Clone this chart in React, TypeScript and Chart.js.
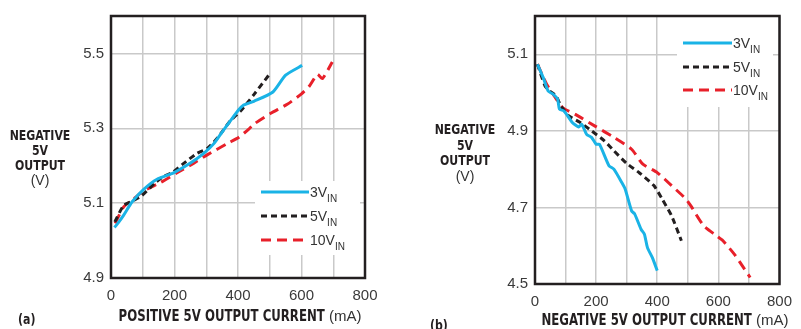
import React, { useEffect, useRef } from 'react';
import { Chart, registerables } from 'chart.js';
Chart.register(...registerables);

// ---------- data ----------
const seriesNames = ['3V', '5V', '10V'];
const xTickValues = [0, 100, 200, 300, 400, 500, 600, 700, 800];
const xTickLabels = ['0', '', '200', '', '400', '', '600', '', '800'];

// panel (a): positive 5V output current vs negative 5V output
const aYTicks = [4.9, 5.1, 5.3, 5.5];
const a3X = [11, 25, 40, 66, 103, 145, 197, 250, 292, 324, 350, 376, 403, 418, 430, 450, 510, 550, 602];
const a3Y = [5.035, 5.05, 5.068, 5.103, 5.137, 5.164, 5.181, 5.207, 5.233, 5.259, 5.29, 5.32, 5.35, 5.362, 5.366, 5.372, 5.397, 5.442, 5.468];
const a5X = [12, 40, 71, 97, 140, 166, 192, 224, 271, 303, 329, 345, 376, 408, 450, 497];
const a5Y = [5.05, 5.094, 5.107, 5.12, 5.155, 5.172, 5.181, 5.203, 5.233, 5.246, 5.268, 5.285, 5.32, 5.346, 5.39, 5.442];
const a10X = [13, 40, 71, 103, 156, 208, 261, 303, 366, 403, 434, 450, 503, 555, 600, 625, 650, 666, 697];
const a10Y = [5.046, 5.09, 5.111, 5.133, 5.155, 5.181, 5.207, 5.229, 5.259, 5.276, 5.298, 5.311, 5.34, 5.364, 5.392, 5.413, 5.444, 5.433, 5.477];

// panel (b): negative 5V output current vs negative 5V output
const bYTicks = [4.5, 4.7, 4.9, 5.1];
const b3X = [8, 27, 43, 59, 74, 80, 95, 122, 143, 153, 169, 185, 200, 211, 242, 258, 284, 295, 316, 326, 347, 358, 368, 384, 400];
const b3Y = [5.074, 5.039, 5.004, 4.996, 4.983, 4.957, 4.952, 4.922, 4.91, 4.917, 4.891, 4.883, 4.865, 4.865, 4.809, 4.8, 4.765, 4.748, 4.691, 4.683, 4.643, 4.63, 4.595, 4.569, 4.535];
const b5X = [8, 33, 48, 69, 85, 111, 148, 185, 227, 258, 300, 342, 389, 416, 447, 479];
const b5Y = [5.074, 5.017, 5.004, 4.991, 4.965, 4.939, 4.922, 4.9, 4.874, 4.848, 4.815, 4.79, 4.757, 4.722, 4.678, 4.613];
const b10X = [8, 38, 59, 90, 132, 195, 258, 316, 353, 400, 447, 494, 510, 552, 594, 615, 652, 678, 704];
const b10Y = [5.074, 5.022, 4.996, 4.961, 4.943, 4.913, 4.883, 4.852, 4.813, 4.791, 4.757, 4.722, 4.704, 4.652, 4.626, 4.613, 4.578, 4.548, 4.517];

// ---------- styles ----------
const COLORS = ['#1ab3e6', '#231f20', '#e8202a'];
const DASHES: number[][] = [[], [6, 4], [10, 6]];
const GRID = '#c9c9c9';
const FRAME = '#231f20';
const TICK_FONT = '"Liberation Sans", Arial, sans-serif';
const TITLE_FONT = '"DejaVu Sans Condensed", "Liberation Sans", sans-serif';
const SQUEEZE = 0.87;

type Panel = {
  W: number; H: number;
  area: { left: number; right: number; top: number; bottom: number };
  yMin: number; yMax: number; yTicks: number[];
  xs: number[][]; ys: number[][];
  legendBox: { x: number; y: number; w: number; h: number };
  legend: { x1: number; x2: number; tx: number; rows: number[] };
  yTitle: { cx: number; rows: number[] };
  xTitle: { bold: string; cx: number; cy: number };
  tag: { text: string; x: number; y: number };
};

const panels: Panel[] = [
  {
    W: 400, H: 329,
    area: { left: 111, right: 365, top: 10, bottom: 278 },
    yMin: 4.9, yMax: 5.6, yTicks: aYTicks,
    xs: [a3X, a5X, a10X], ys: [a3Y, a5Y, a10Y],
    legendBox: { x: 255, y: 181, w: 105, h: 74 },
    legend: { x1: 261, x2: 309, tx: 310, rows: [192, 216, 240] },
    yTitle: { cx: 40, rows: [136, 151, 166, 181] },
    xTitle: { bold: 'POSITIVE 5V OUTPUT CURRENT', cx: 240, cy: 317 },
    tag: { text: '(a)', x: 18, y: 320 },
  },
  {
    W: 401, H: 329,
    area: { left: 135, right: 389, top: 14, bottom: 284 },
    yMin: 4.5, yMax: 5.2, yTicks: bYTicks,
    xs: [b3X, b5X, b10X], ys: [b3Y, b5Y, b10Y],
    legendBox: { x: 277, y: 14, w: 96, h: 93 },
    legend: { x1: 283, x2: 332, tx: 333, rows: [43, 67, 90] },
    yTitle: { cx: 65, rows: [130, 146, 161, 177] },
    xTitle: { bold: 'NEGATIVE 5V OUTPUT CURRENT', cx: 265, cy: 321 },
    tag: { text: '(b)', x: 30, y: 326 },
  },
];

function squeezedText(ctx: any, text: string, x: number, y: number, align: 'left' | 'center') {
  const w = ctx.measureText(text).width * SQUEEZE;
  const left = align === 'center' ? x - w / 2 : x;
  ctx.save();
  ctx.textAlign = 'left';
  ctx.translate(left, y);
  ctx.scale(SQUEEZE, 1);
  ctx.fillText(text, 0, 0);
  ctx.restore();
  return w;
}

function panelPlugin(p: Panel) {
  return {
    id: 'panelDeco',
    beforeDatasetsDraw(chart: any) {
      const ctx = chart.ctx;
      ctx.save();
      ctx.fillStyle = '#ffffff';
      ctx.fillRect(p.legendBox.x, p.legendBox.y, p.legendBox.w, p.legendBox.h);
      ctx.restore();
    },
    afterDraw(chart: any) {
      const ctx = chart.ctx;
      const a = chart.chartArea;
      ctx.save();
      // legend
      seriesNames.forEach((name, i) => {
        const y = p.legend.rows[i];
        ctx.beginPath();
        ctx.setLineDash(DASHES[i]);
        ctx.strokeStyle = COLORS[i];
        ctx.lineWidth = 3;
        ctx.moveTo(p.legend.x1, y);
        ctx.lineTo(p.legend.x2, y);
        ctx.stroke();
        ctx.setLineDash([]);
        ctx.fillStyle = '#333333';
        ctx.textBaseline = 'alphabetic';
        ctx.textAlign = 'left';
        ctx.font = `14px ${TICK_FONT}`;
        ctx.fillText(name, p.legend.tx, y + 5);
        const w = ctx.measureText(name).width;
        ctx.font = `10px ${TICK_FONT}`;
        ctx.fillText('IN', p.legend.tx + w, y + 10);
      });
      // frame
      ctx.strokeStyle = FRAME;
      ctx.lineWidth = 2.5;
      ctx.strokeRect(a.left, a.top, a.right - a.left, a.bottom - a.top);
      // y title
      ctx.fillStyle = '#231f20';
      ctx.textBaseline = 'middle';
      const yLines = ['NEGATIVE', '5V', 'OUTPUT'];
      ctx.font = `bold 14px ${TITLE_FONT}`;
      yLines.forEach((t, i) => squeezedText(ctx, t, p.yTitle.cx, p.yTitle.rows[i], 'center'));
      ctx.font = `14px ${TICK_FONT}`;
      ctx.fillStyle = '#333333';
      ctx.textAlign = 'center';
      ctx.fillText('(V)', p.yTitle.cx, p.yTitle.rows[3]);
      // x title
      ctx.font = `bold 15px ${TITLE_FONT}`;
      const bw = ctx.measureText(p.xTitle.bold).width * SQUEEZE;
      ctx.font = `15px ${TICK_FONT}`;
      const rest = ' (mA)';
      const rw = ctx.measureText(rest).width;
      const x0 = p.xTitle.cx - (bw + rw) / 2;
      ctx.font = `bold 15px ${TITLE_FONT}`;
      ctx.fillStyle = '#231f20';
      squeezedText(ctx, p.xTitle.bold, x0, p.xTitle.cy, 'left');
      ctx.font = `15px ${TICK_FONT}`;
      ctx.fillStyle = '#333333';
      ctx.textAlign = 'left';
      ctx.fillText(rest, x0 + bw, p.xTitle.cy);
      // tag
      ctx.font = `bold 14px ${TITLE_FONT}`;
      ctx.fillStyle = '#231f20';
      squeezedText(ctx, p.tag.text, p.tag.x, p.tag.y, 'left');
      ctx.restore();
    },
  };
}

function PanelChart({ p, left }: { p: Panel; left: number }) {
  const ref = useRef<HTMLCanvasElement | null>(null);
  useEffect(() => {
    if (!ref.current) return;
    const chart = new Chart(ref.current, {
      type: 'line',
      data: {
        datasets: seriesNames.map((name, i) => ({
          label: name,
          data: p.xs[i].map((x, k) => ({ x, y: p.ys[i][k] })),
          borderColor: COLORS[i],
          borderWidth: 3,
          borderDash: DASHES[i],
          pointRadius: 0,
          tension: 0.2,
          fill: false,
        })),
      },
      options: {
        responsive: false,
        animation: false,
        events: [],
        layout: { padding: { left: 0, top: p.area.top, right: p.W - p.area.right, bottom: 0 } },
        plugins: { legend: { display: false }, tooltip: { enabled: false }, title: { display: false } },
        scales: {
          x: {
            type: 'linear',
            min: 0,
            max: 800,
            afterBuildTicks: (s: any) => { s.ticks = xTickValues.map((v) => ({ value: v })); },
            afterFit: (s: any) => { s.height = p.H - p.area.bottom; },
            ticks: {
              autoSkip: false,
              maxRotation: 0,
              padding: 9,
              color: '#3a3a3a',
              font: { family: TICK_FONT, size: 15 },
              callback: (v: any) => xTickLabels[xTickValues.indexOf(Number(v))] ?? '',
            },
            grid: { color: GRID, lineWidth: 1.5, drawTicks: false },
            border: { display: false },
          },
          y: {
            type: 'linear',
            min: p.yMin,
            max: p.yMax,
            afterBuildTicks: (s: any) => { s.ticks = p.yTicks.map((v) => ({ value: v })); },
            afterFit: (s: any) => { s.width = p.area.left; },
            ticks: {
              padding: 7,
              color: '#3a3a3a',
              font: { family: TICK_FONT, size: 15 },
              callback: (v: any) => Number(v).toFixed(1),
            },
            grid: { color: GRID, lineWidth: 1.5, drawTicks: false },
            border: { display: false },
          },
        },
      },
      plugins: [panelPlugin(p)],
    } as any);
    return () => chart.destroy();
  }, [p]);
  return (
    <canvas
      ref={ref}
      width={p.W}
      height={p.H}
      style={{ position: 'absolute', left, top: 0, width: p.W, height: p.H, display: 'block' }}
    />
  );
}

export default function App() {
  return (
    <div style={{ position: 'fixed', left: 0, top: 0, width: 801, height: 329, background: '#ffffff', overflow: 'hidden' }}>
      <PanelChart p={panels[0]} left={0} />
      <PanelChart p={panels[1]} left={400} />
    </div>
  );
}
